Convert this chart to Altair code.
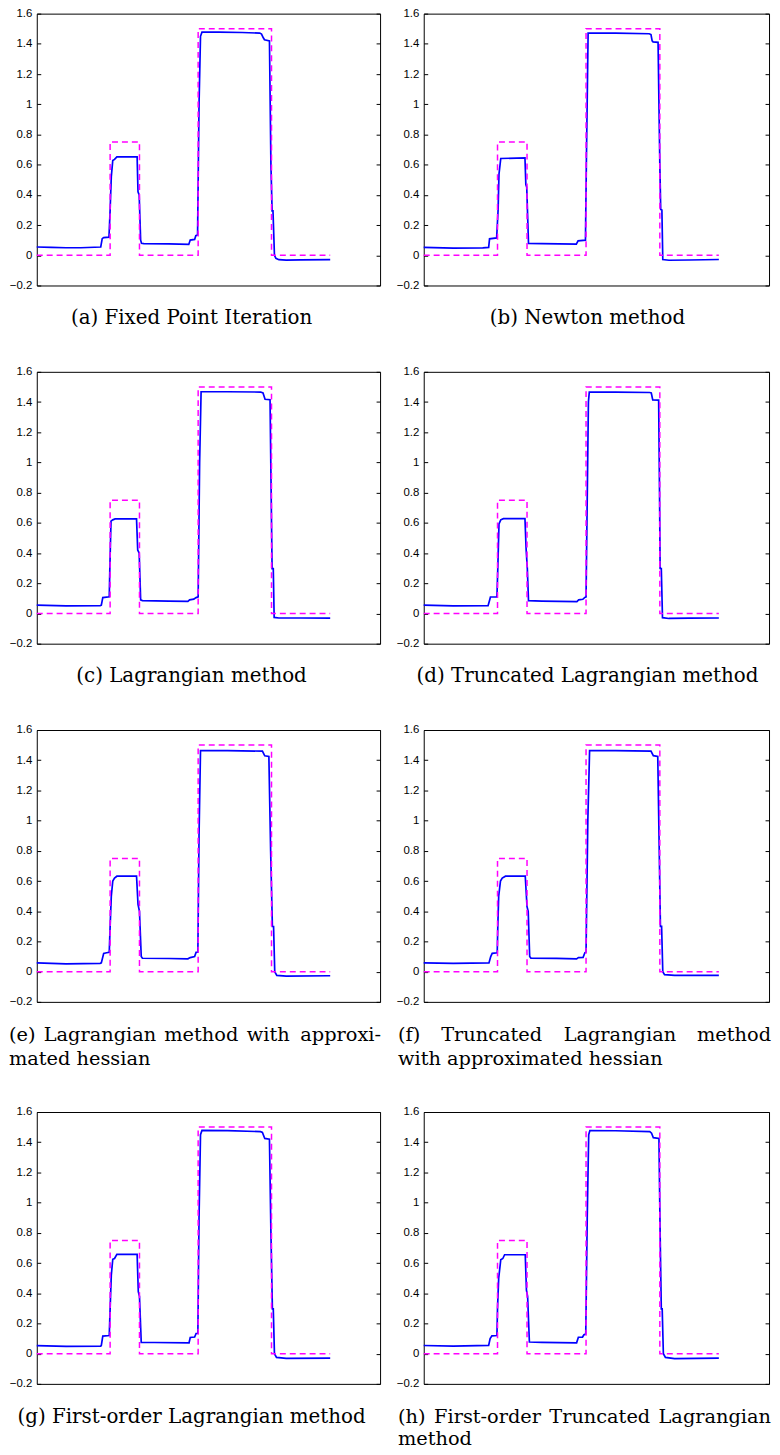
import altair as alt
import pandas as pd

# ---------------- data ----------------
TICKS = [-0.2, 0, 0.2, 0.4, 0.6, 0.8, 1, 1.2, 1.4, 1.6]

STEP_X = [0, 25, 25, 35, 35, 55, 55, 80, 80, 100]
STEP_Y = [0, 0, 0.75, 0.75, 0, 0, 1.5, 1.5, 0, 0]

XA = [0, 5, 10, 15, 21.8, 22.3, 22.8, 24.6, 25.0, 25.4, 25.9, 26.5, 27.3, 34.2, 34.5, 34.9, 35.4, 35.7,
      36.5, 45, 51.8, 52.3, 53.8, 54.2, 54.8, 55.3, 55.8, 56.3, 62, 70, 76.0, 76.6, 77.2, 77.6, 79.3,
      79.8, 80.2, 80.5, 81.0, 81.5, 82.5, 85, 90, 100]
YA = [0.055, 0.052, 0.05, 0.05, 0.055, 0.11, 0.117, 0.12, 0.30, 0.52, 0.628, 0.635, 0.652, 0.652, 0.42,
      0.40, 0.10, 0.08, 0.077, 0.075, 0.072, 0.101, 0.105, 0.13, 0.135, 1.0, 1.45, 1.477, 1.477, 1.475,
      1.471, 1.465, 1.44, 1.427, 1.42, 0.6, 0.294, 0.294, 0.0, -0.02, -0.029, -0.032, -0.03, -0.029]

XB = [0, 10, 20, 22.0, 22.3, 24.7, 25.2, 25.5, 26.1, 34.3, 34.6, 34.9, 35.5, 40, 51.7, 52.3, 54.8,
      55.1, 55.7, 65, 76.4, 77.0, 77.4, 77.7, 79.4, 80.0, 80.3, 80.7, 81.0, 83.1, 90, 100]
YB = [0.052, 0.048, 0.049, 0.052, 0.109, 0.115, 0.3, 0.538, 0.641, 0.645, 0.468, 0.45, 0.079, 0.077,
      0.074, 0.096, 0.1, 0.6, 1.471, 1.471, 1.467, 1.462, 1.42, 1.413, 1.41, 0.6, 0.304, 0.3, -0.028,
      -0.033, -0.031, -0.028]

XC = [0, 10, 21.6, 22.0, 22.5, 24.7, 24.9, 25.3, 25.9, 26.7, 34.0, 34.4, 34.9, 35.4, 36, 45, 51.5,
      52.1, 53.5, 54.3, 55.0, 55.5, 56.0, 65, 76.3, 77.1, 77.8, 79.5, 80.0, 80.2, 80.6, 80.9, 82.5, 90, 100]
YC = [0.055, 0.05, 0.052, 0.055, 0.105, 0.11, 0.3, 0.611, 0.62, 0.626, 0.626, 0.42, 0.40, 0.09, 0.085,
      0.082, 0.08, 0.09, 0.095, 0.105, 0.11, 1.0, 1.468, 1.468, 1.466, 1.46, 1.418, 1.415, 0.6, 0.297,
      0.297, -0.026, -0.03, -0.03, -0.031]

XD = [0, 10, 21.8, 22.2, 22.6, 24.8, 25.1, 25.5, 26.1, 27.0, 34.3, 34.7, 35.1, 35.5, 40, 51.9, 52.5,
      53.9, 54.5, 55.0, 55.3, 55.8, 56.1, 65, 76.6, 77.1, 77.6, 79.6, 79.9, 80.1, 80.5, 80.9, 83.1, 90, 100]
YD = [0.055, 0.05, 0.052, 0.08, 0.109, 0.11, 0.3, 0.593, 0.62, 0.628, 0.628, 0.423, 0.3, 0.085, 0.082,
      0.079, 0.09, 0.094, 0.105, 0.11, 0.6, 1.4, 1.465, 1.465, 1.463, 1.46, 1.414, 1.413, 0.8, 0.298,
      0.298, -0.028, -0.033, -0.031, -0.03]

XE = [0, 10, 21.6, 22.0, 22.8, 23.8, 24.7, 25.0, 25.4, 25.9, 26.5, 27.3, 34.0, 34.5, 35.0, 35.6, 36.0,
      45, 51.5, 52.3, 53.8, 54.3, 54.9, 55.3, 55.8, 65, 76.9, 77.7, 79.1, 79.7, 80.3, 80.7, 81.1, 81.8, 85, 100]
YE = [0.058, 0.052, 0.055, 0.058, 0.12, 0.125, 0.128, 0.3, 0.5, 0.6, 0.62, 0.632, 0.632, 0.446, 0.40,
      0.10, 0.089, 0.087, 0.085, 0.093, 0.1, 0.128, 0.13, 0.9, 1.464, 1.464, 1.46, 1.429, 1.425, 0.8,
      0.299, 0.299, 0.0, -0.025, -0.029, -0.027]

XF = [0, 10, 22.1, 22.7, 23.2, 24.9, 25.1, 25.4, 26.0, 26.6, 27.7, 34.4, 35.0, 35.4, 35.9, 36.3, 45,
      51.8, 52.4, 54.0, 54.6, 55.0, 55.6, 56.2, 65, 77.0, 77.8, 79.3, 79.8, 80.2, 80.6, 81.0, 81.6, 85, 100]
YF = [0.058, 0.055, 0.058, 0.1, 0.121, 0.125, 0.3, 0.5, 0.6, 0.62, 0.632, 0.632, 0.43, 0.40, 0.10,
      0.09, 0.088, 0.085, 0.093, 0.095, 0.125, 0.13, 1.0, 1.464, 1.464, 1.46, 1.43, 1.425, 0.8, 0.30,
      0.30, 0.0, -0.02, -0.025, -0.025]

XG = [0, 10, 21.8, 22.0, 22.5, 24.7, 25.0, 25.4, 25.9, 26.5, 27.3, 34.2, 34.6, 35.0, 35.6, 40, 51.9,
      52.3, 53.8, 54.3, 54.9, 55.3, 55.8, 56.3, 65, 76.3, 76.9, 77.7, 79.3, 79.8, 80.3, 80.6, 81.0, 81.7, 85, 100]
YG = [0.053, 0.048, 0.05, 0.055, 0.116, 0.12, 0.3, 0.52, 0.625, 0.63, 0.658, 0.658, 0.41, 0.38, 0.075,
      0.074, 0.072, 0.107, 0.11, 0.134, 0.135, 0.9, 1.45, 1.478, 1.477, 1.47, 1.465, 1.425, 1.42, 0.8,
      0.296, 0.296, 0.0, -0.025, -0.031, -0.03]

XH = [0, 10, 22.0, 22.5, 23.1, 24.8, 25.0, 25.4, 26.1, 26.8, 27.4, 34.4, 34.8, 35.2, 35.8, 40, 51.8,
      52.4, 53.8, 54.3, 54.9, 55.4, 55.9, 56.3, 65, 76.6, 77.2, 77.8, 79.7, 80.1, 80.5, 80.8, 81.2, 81.9, 85, 100]
YH = [0.054, 0.05, 0.055, 0.1, 0.118, 0.12, 0.3, 0.5, 0.622, 0.63, 0.655, 0.655, 0.42, 0.38, 0.077,
      0.075, 0.072, 0.109, 0.11, 0.125, 0.13, 0.9, 1.45, 1.477, 1.476, 1.47, 1.46, 1.43, 1.425, 0.8,
      0.296, 0.296, 0.0, -0.025, -0.033, -0.03]

CAP_A = "(a) Fixed Point Iteration"
CAP_B = "(b) Newton method"
CAP_C = "(c) Lagrangian method"
CAP_D = "(d) Truncated Lagrangian method"
CAP_E = [["(e)", "Lagrangian", "method", "with", "approxi-"], ["mated hessian"]]
CAP_F = [["(f)", "Truncated", "Lagrangian", "method"], ["with approximated hessian"]]
CAP_G = "(g) First-order Lagrangian method"
CAP_H = [["(h)", "First-order", "Truncated", "Lagrangian"], ["method"]]

# ---------------- layout ----------------
W_L, W_R, H = 346, 348, 274
SERIF = "DejaVu Serif"
CAP_SIZE = 20
JUST_SIZE = 19.5
LINE1 = H + 39
LINE2 = H + 64
LINE2_LAST = H + 62

XSC = alt.Scale(domain=[0, 117], nice=False, zero=False)
YSC = alt.Scale(domain=[-0.2, 1.6], nice=False, zero=False)


def txt(text, x, y, align, size=CAP_SIZE):
    return alt.Chart(alt.Data(values=[{}])).mark_text(
        text=text, align=align, baseline="alphabetic", font=SERIF,
        fontSize=size, color="black"
    ).encode(x=alt.value(x), y=alt.value(y))


def panel(xs, ys, width, caps):
    df = pd.DataFrame({"x": xs, "y": ys, "i": list(range(len(xs)))})
    st = pd.DataFrame({"x": STEP_X, "y": STEP_Y, "i": list(range(len(STEP_X)))})
    blue = alt.Chart(df).mark_line(color="#0000ff", strokeWidth=1.7).encode(
        x=alt.X("x:Q", scale=XSC, axis=None),
        y=alt.Y("y:Q", scale=YSC, axis=alt.Axis(
            orient="left", values=TICKS, format="~g", title=None, offset=-4,
            tickSize=4, labelPadding=5, domain=False, grid=False)),
        order="i:Q",
    )
    mag = alt.Chart(st).mark_line(color="#ff00ff", strokeWidth=1.5, strokeDash=[6, 4]).encode(
        x=alt.X("x:Q", scale=XSC, axis=None),
        y=alt.Y("y:Q", scale=YSC, axis=alt.Axis(
            orient="right", values=TICKS, labels=False, title=None, offset=-4,
            tickSize=4, domain=False, grid=False)),
        order="i:Q",
    )
    return alt.layer(blue, mag, *caps).resolve_axis(y="independent").properties(
        width=width, height=H)


J = JUST_SIZE
capA = [txt(CAP_A, 156, LINE1, "center")]
capB = [txt(CAP_B, 165, LINE1, "center")]
capC = [txt(CAP_C, 156, LINE1, "center")]
capD = [txt(CAP_D, 165, LINE1, "center")]
capG = [txt(CAP_G, 156, LINE1, "center")]
capE = [txt(CAP_E[0][0], -28, LINE1, "left", J), txt(CAP_E[0][1], 7, LINE1, "left", J),
        txt(CAP_E[0][2], 128.5, LINE1, "left", J), txt(CAP_E[0][3], 211.7, LINE1, "left", J),
        txt(CAP_E[0][4], 347, LINE1, "right", J), txt(CAP_E[1][0], -28, LINE2, "left", J)]
capF = [txt(CAP_F[0][0], -26, LINE1, "left", J), txt(CAP_F[0][1], 17.6, LINE1, "left", J),
        txt(CAP_F[0][2], 141, LINE1, "left", J), txt(CAP_F[0][3], 350, LINE1, "right", J),
        txt(CAP_F[1][0], -26, LINE2, "left", J)]
capH = [txt(CAP_H[0][0], -26, LINE1, "left", J), txt(CAP_H[0][1], 10.4, LINE1, "left", J),
        txt(CAP_H[0][2], 126.5, LINE1, "left", J), txt(CAP_H[0][3], 350, LINE1, "right", J),
        txt(CAP_H[1][0], -26, LINE2_LAST, "left", J)]

pa = panel(XA, YA, W_L, capA)
pb = panel(XB, YB, W_R, capB)
pc = panel(XC, YC, W_L, capC)
pd_ = panel(XD, YD, W_R, capD)
pe = panel(XE, YE, W_L, capE)
pf = panel(XF, YF, W_R, capF)
pg = panel(XG, YG, W_L, capG)
ph = panel(XH, YH, W_R, capH)

rows = [alt.hconcat(l, r, spacing=44, bounds="flush") for l, r in
        [(pa, pb), (pc, pd_), (pe, pf), (pg, ph)]]

chart = alt.vconcat(*rows, spacing=36).properties(
    padding={"left": 0, "top": -7, "right": 0, "bottom": 0}
).configure_view(
    stroke="black", strokeWidth=1
).configure_axis(
    labelFont="Liberation Sans", labelFontSize=11.5, labelColor="black",
    tickColor="black", tickWidth=1
)

chart.save("out.html", embed_options={"renderer": "svg", "actions": False})
